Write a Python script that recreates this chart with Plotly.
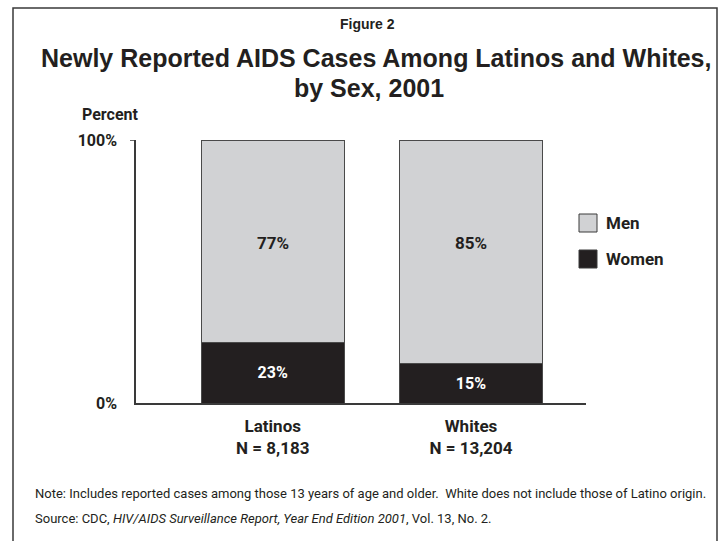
import plotly.graph_objects as go

categories = ["Latinos<br>N = 8,183", "Whites<br>N = 13,204"]
series_names = ["Women", "Men"]
women = [23, 15]
men = [77, 85]
colors = {"Women": "#231f20", "Men": "#d1d2d4"}
ytick_vals = [0, 100]
ytick_text = ["0%", "100%"]

W, H = 724, 541
L, R, T, B = 136, 586, 140, 403  # plot area in pixels

def px(x):
    return (x - L) / (R - L)

def py(y):
    return (B - y) / (B - T)

COND = "Roboto, Liberation Sans, Arial, sans-serif"
SANS = "Liberation Sans, Arial, Helvetica, sans-serif"
INK = "#231f20"
EDGE = "#4a4a4a"

fig = go.Figure()
vals = {"Women": women, "Men": men}
for name in series_names:
    v = vals[name]
    is_w = name == "Women"
    fig.add_trace(go.Bar(
        x=categories, y=v, name=name,
        marker=dict(color=colors[name], line=dict(color=EDGE, width=1)),
        width=0.72,
        text=[f"{t}%" for t in v] if is_w else None,
        textposition="inside" if is_w else "none", insidetextanchor="middle",
        textfont=dict(family=COND, size=16, color="white", weight="bold"),
        showlegend=False, hoverinfo="skip",
    ))

fig.update_layout(
    width=W, height=H, barmode="stack",
    margin=dict(l=L, r=W - R, t=T, b=H - B),
    paper_bgcolor="white", plot_bgcolor="white",
    xaxis=dict(range=[-0.69, 1.58], showline=True, linecolor="#3a3a3a", linewidth=1.5,
               showgrid=False, zeroline=False, ticks="", ticklabelstandoff=7,
               tickfont=dict(family=COND, size=17, color=INK, weight="bold")),
    yaxis=dict(range=[0, 100], showline=True, linecolor="#3a3a3a", linewidth=1.5,
               showgrid=False, zeroline=False, ticks="",
               tickvals=ytick_vals, ticktext=ytick_text, ticklabelstandoff=14,
               tickfont=dict(family=COND, size=16, color=INK, weight="bold")),
    font=dict(family=SANS, color=INK),
)

shapes = [
    dict(type="rect", xref="paper", yref="paper", x0=px(13), x1=px(717), y0=py(560), y1=py(8),
         line=dict(color="#3a3a3a", width=1.5), fillcolor="rgba(0,0,0,0)", layer="below"),
    dict(type="line", xref="paper", yref="y", x0=px(130), x1=px(136), y0=100, y1=100,
         line=dict(color="#3a3a3a", width=1.5)),
]
leg_y = {"Men": 223, "Women": 259}
for name in ["Men", "Women"]:
    yc = leg_y[name]
    shapes.append(dict(type="rect", xref="paper", yref="paper",
                       x0=px(579), x1=px(597), y0=py(yc + 9), y1=py(yc - 9),
                       fillcolor=colors[name], line=dict(color="#3a3a3a", width=1)))
fig.update_layout(shapes=shapes)

ann = [
    dict(text="<b>Figure 2</b>", x=px(367), y=py(24), font=dict(family=SANS, size=14, color=INK)),
    dict(text="<b>Newly Reported AIDS Cases Among Latinos and Whites,</b>", x=px(376), y=py(58),
         font=dict(family=SANS, size=25, color=INK)),
    dict(text="<b>by Sex, 2001</b>", x=px(369), y=py(88), font=dict(family=SANS, size=25, color=INK)),
    dict(text="<b>Percent</b>", x=px(80), y=py(114), xanchor="left",
         font=dict(family=COND, size=16, color=INK)),
]
for c, v in zip(categories, men):
    ann.append(dict(text=f"<b>{v}%</b>", x=c, y=61, xref="x", yref="y", xanchor="center",
                    font=dict(family=COND, size=17, color=INK)))
for name in ["Men", "Women"]:
    ann.append(dict(text=f"<b>{name}</b>", x=px(604), y=py(leg_y[name]), xanchor="left",
                    font=dict(family=COND, size=17, color=INK)))
ann += [
    dict(text="Note: Includes reported cases among those 13 years of age and older.  White does not include those of Latino origin.",
         x=px(33), y=py(493), xanchor="left", font=dict(family=COND, size=13, color=INK)),
    dict(text="Source: CDC, <i>HIV/AIDS Surveillance Report, Year End Edition 2001</i>, Vol. 13, No. 2.",
         x=px(33), y=py(518), xanchor="left", font=dict(family=COND, size=13, color=INK)),
]
for a in ann:
    a.setdefault("xanchor", "center")
    a.setdefault("xref", "paper")
    a.setdefault("yref", "paper")
    a.update(yanchor="middle", showarrow=False)
fig.update_layout(annotations=ann)

fig.write_html("out.html", config={"displayModeBar": False},
               post_script="document.body.style.margin='0';document.body.style.overflow='hidden';")
